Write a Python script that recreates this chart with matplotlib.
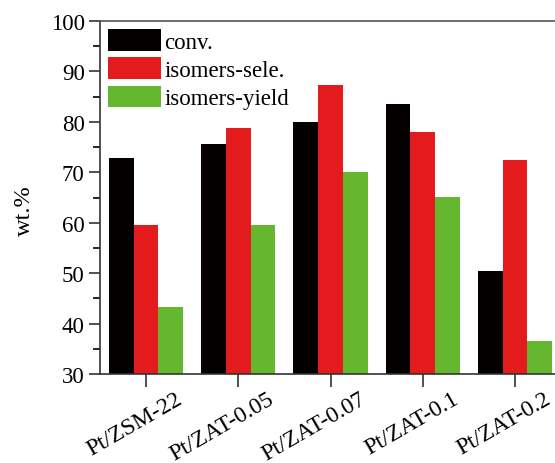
import numpy as np
import matplotlib
matplotlib.use('Agg')
import matplotlib.pyplot as plt
import matplotlib.transforms as mtransforms
from matplotlib.ticker import MultipleLocator

plt.rcParams['font.family'] = ['Liberation Serif', 'DejaVu Serif']

# 数据
catalysts = ['Pt/ZSM-22', 'Pt/ZAT-0.05', 'Pt/ZAT-0.07', 'Pt/ZAT-0.1', 'Pt/ZAT-0.2']
conv = [72.9, 75.7, 80.0, 83.5, 50.5]
isomers_sele = [59.6, 78.8, 87.3, 78.0, 72.5]
isomers_yield = [43.2, 59.6, 70.0, 65.1, 36.6]

fig = plt.figure(figsize=(5.55, 4.64), dpi=100)
ax = fig.add_axes([100/555, 1-375/464, 461/555, 353/464])

x = np.arange(1, len(catalysts)+1)
w = 0.268
ax.bar(x - w, conv, w, color='#050000', label='conv.')
ax.bar(x, isomers_sele, w, color='#e41b1d', label='isomers-sele.')
ax.bar(x + w, isomers_yield, w, color='#65b72f', label='isomers-yield')

ax.set_xlim(0.5, 5.5)
ax.set_ylim(30, 100)
ax.yaxis.set_major_locator(MultipleLocator(10))
ax.yaxis.set_minor_locator(MultipleLocator(5))
ax.set_xticks(x)
ax.set_xticklabels([])
# x标签: 旋转后整体右移 (Origin 风格)
trans = mtransforms.blended_transform_factory(ax.transData, ax.transAxes)
off = mtransforms.ScaledTranslation(29/100, -14/100, fig.dpi_scale_trans)
for xi, name in zip(x, catalysts):
    ax.text(xi, 0, name, transform=trans + off, rotation=30, ha='right', va='top',
            rotation_mode='anchor', fontsize=17, clip_on=False)

ax.tick_params(axis='y', labelsize=16.5)
ax.tick_params(axis='both', direction='out', width=1.2, color='#333333')
ax.tick_params(axis='y', which='major', length=8, pad=3)
ax.tick_params(axis='y', which='minor', length=5, width=1.2)
ax.tick_params(axis='x', length=9, pad=3)
ax.spines['right'].set_visible(False)
ax.spines['top'].set_color('#555555')
for s in ['left', 'bottom']:
    ax.spines[s].set_color('#333333')
    ax.spines[s].set_linewidth(1.2)
ax.spines['top'].set_linewidth(1.2)

ax.set_ylabel('wt.%', fontsize=17.5)
ax.yaxis.set_label_coords(-0.141, 0.467)

ax.legend(loc='upper left', frameon=False, fontsize=16.5,
          handlelength=2.3, handleheight=1.09, labelspacing=0.2,
          handletextpad=0.15, borderaxespad=0.15, borderpad=0.2)

fig.savefig('out.png', dpi=100)
